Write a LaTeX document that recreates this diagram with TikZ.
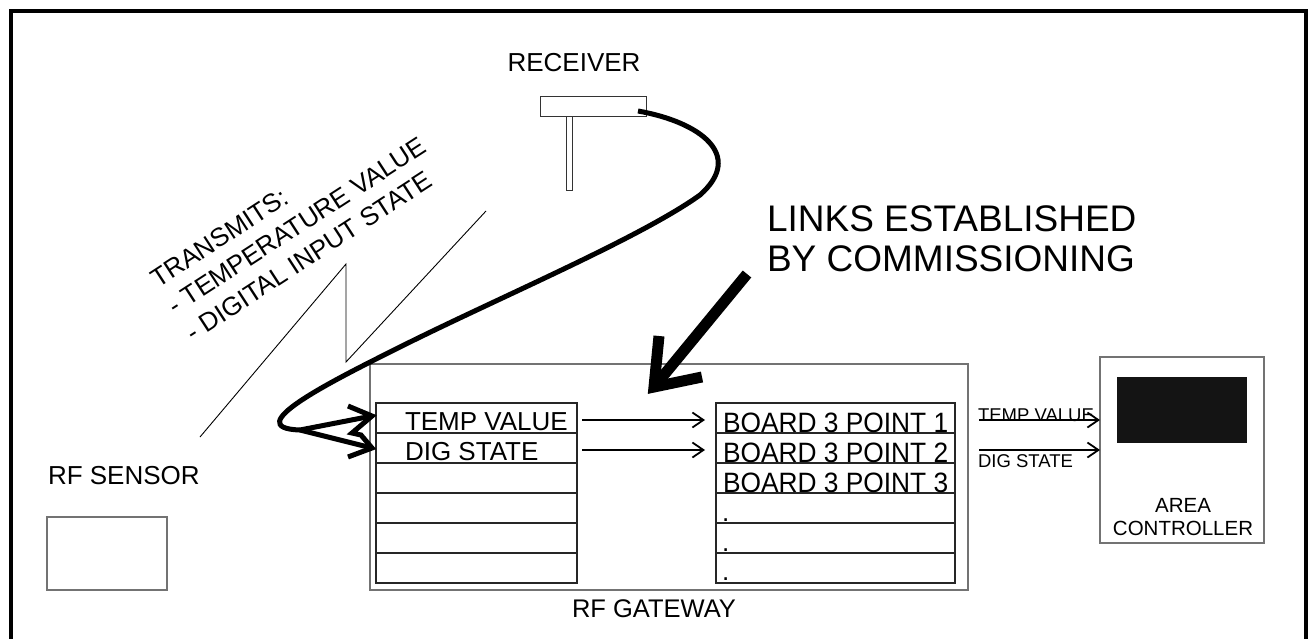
\documentclass[tikz,border=0pt]{standalone}
\usepackage{fontspec}
\setmainfont{Liberation Sans}
\newfontfamily\boardfont[FakeStretch=0.94]{Liberation Sans}
\usetikzlibrary{arrows.meta}
\begin{document}
\begin{tikzpicture}[x=1pt,y=-1pt,
  frameline/.style={line width=4.5pt, line join=miter},
  graybox/.style={draw=black!55, line width=1.3pt, inner sep=0pt, outer sep=0pt},
  thinbox/.style={draw=black!80, line width=1pt, inner sep=0pt, outer sep=0pt},
  cell/.style={draw=black!85, line width=1.1pt, minimum width=201pt, minimum height=30pt, inner sep=0pt, outer sep=0pt},
  rcell/.style={cell, minimum width=239pt},
  lbl/.style={inner sep=0pt, outer sep=0pt, font=\fontsize{26}{30}\selectfont},
  boardlbl/.style={inner sep=0pt, outer sep=0pt, font=\boardfont\fontsize{28}{30}\selectfont},
  smalllbl/.style={inner sep=0pt, outer sep=0pt, font=\fontsize{18.5}{22}\selectfont},
  biglbl/.style={inner sep=0pt, outer sep=0pt, font=\fontsize{37}{40}\selectfont},
  ctrllbl/.style={inner sep=0pt, outer sep=0pt, font=\fontsize{20.5}{23}\selectfont},
  thinarrow/.style={line width=1.8pt, -{Straight Barb[length=11pt, width=15pt, line width=1.8pt]}},
  cable/.style={line width=5pt, line join=miter},
  wave/.style={line width=0.9pt},
  bigarrow/.style={line width=11pt, line join=miter}
]
\useasboundingbox (0,0) rectangle (1308,639);
\fill[white] (0,0) rectangle (1308,639);

% frame
\draw[frameline] (11,639) -- (11,11) -- (1306,11) -- (1306,639);

% receiver
\node[lbl, anchor=base] (rxlabel) at (574,72) {RECEIVER};
\node[thinbox, minimum width=106pt, minimum height=20pt, anchor=north west] (rxbox) at (540,97) {};
\node[thinbox, minimum width=6pt, minimum height=74pt, anchor=north] (rxstem) at (569,117) {};

% transmit text (one rotated block; base = last line)
\node[lbl, rotate=33, anchor=base west, align=left, font=\fontsize{26}{32}\selectfont] (tx) at (193,342)
  {TRANSMITS:\\- TEMPERATURE VALUE\\- DIGITAL INPUT STATE};

% radio wave zigzag
\coordinate (w1) at (200,437);
\coordinate (w2) at (346,264);
\coordinate (w3) at (346,362);
\coordinate (w4) at (486,211);
\draw[wave] (w1) -- (w2) -- (w3) -- (w4);

% RF sensor
\node[lbl, anchor=base west] (sensorlabel) at (48,484) {RF SENSOR};
\node[graybox, minimum width=120pt, minimum height=73pt] (sensor) at (107,553.5) {};

% gateway
\node[graybox, minimum width=598pt, minimum height=226pt] (GW) at (669,477) {};
\node[lbl, anchor=base west, font=\fontsize{25.5}{30}\selectfont] (gwlabel) at (572,617) {RF GATEWAY};

% tables
\foreach \i/\y in {1/418,2/448,3/478,4/508,5/538,6/568}{
  \node[cell] (L\i) at (476.5,\y) {};
  \node[rcell] (R\i) at (835.5,\y) {};
}
\node[lbl, anchor=base west] (ltemp) at (405,430) {TEMP VALUE};
\node[lbl, anchor=base west] (ldig) at (405,460) {DIG STATE};
\node[boardlbl, anchor=base west] (rb1) at (723,432) {BOARD 3 POINT 1};
\node[boardlbl, anchor=base west] (rb2) at (723,462) {BOARD 3 POINT 2};
\node[boardlbl, anchor=base west] (rb3) at (723,492) {BOARD 3 POINT 3};
\node[lbl, anchor=base west] (d1) at (722,521) {.};
\node[lbl, anchor=base west] (d2) at (722,551) {.};
\node[lbl, anchor=base west] (d3) at (722,580) {.};

% links inside gateway
\coordinate (a1) at ([yshift=-2pt]L1.east);
\coordinate (a2) at ([yshift=-2pt]L2.east);
\draw[thinarrow, shorten <=5pt, shorten >=11pt] (a1) -- (R1.west |- a1);
\draw[thinarrow, shorten <=5pt, shorten >=11pt] (a2) -- (R2.west |- a2);

% area controller
\node[graybox, minimum width=164pt, minimum height=186pt] (AC) at (1182,450) {};
\node[fill=black!92, minimum width=130pt, minimum height=66pt, inner sep=0pt] (screen) at (1182,410) {};
\node[ctrllbl, anchor=base] (aclabel1) at (1183,512) {AREA};
\node[ctrllbl, anchor=base] (aclabel2) at (1183,535) {CONTROLLER};

% outputs to controller
\draw[thinarrow, shorten <=11pt] (GW.east |- a1) -- (AC.west |- a1);
\draw[thinarrow, shorten <=11pt] (GW.east |- a2) -- (AC.west |- a2);
\node[smalllbl, anchor=base west] (otemp) at (978,421) {TEMP VALUE};
\node[smalllbl, anchor=base west] (odig) at (978,467) {DIG STATE};

% cable from receiver to gateway
\coordinate (cabA) at (638,111);
\coordinate (loop) at (300,430);
\coordinate (T1) at (372,416);
\coordinate (T2) at (372,448);
\draw[cable] (cabA) .. controls (700,122) and (745,155) .. (700,195)
  .. controls (640,238) and (500,297) .. (400,347)
  .. controls (330,382) and (238,428) .. (loop);
\draw[cable] (loop) -- (T1);
\draw[cable] (loop) -- (T2);
\draw[cable] (348,406) -- (T1) -- (352,433) -- (361,435) -- (T2) -- (348,457);

% commissioning note
\node[biglbl, anchor=base west] (links1) at (767,231) {LINKS ESTABLISHED};
\node[biglbl, anchor=base west] (links2) at (767,271) {BY COMMISSIONING};
\coordinate (bA) at (747,274);
\coordinate (bT) at (654,387);
\draw[bigarrow] (bA) -- (bT);
\draw[bigarrow] (659,336) -- (bT) -- (702,377);
\end{tikzpicture}
\end{document}
